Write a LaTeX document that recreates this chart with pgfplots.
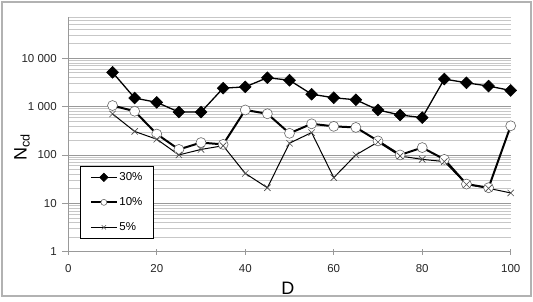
\documentclass[border=0pt]{standalone}
\usepackage{fontspec}
\setmainfont{Liberation Sans}
\usepackage{pgfplots}
\pgfplotsset{compat=1.18}
\begin{document}
\begin{tikzpicture}[x=1pt,y=1pt]
\path[use as bounding box] (-68.3,-50.3) rectangle (464.7,251.7);
\draw[black!30, line width=1.2pt] (-66.3,-44.3) rectangle (462.7,249.7);
\begin{axis}[
  at={(0,0)}, anchor=south west,
  scale only axis, width=442.4pt, height=234.4pt,
  ymode=log, log basis y=10,
  xmin=0, xmax=100, ymin=1, ymax=70000,
  axis x line=bottom, axis y line=left,
  axis line style={black!40, -},
  xtick={0,20,40,60,80,100},
  xticklabels={0,20,40,60,80,100},
  ytick={1,10,100,1000,10000},
  yticklabels={1,10,100,1 000,10 000},
  minor ytick={2,3,4,5,6,7,8,9,20,30,40,50,60,70,80,90,200,300,400,500,600,700,800,900,2000,3000,4000,5000,6000,7000,8000,9000,20000,30000,40000,50000,60000,70000},
  ymajorgrids=true, yminorgrids=true,
  major grid style={black!40, line width=0.6pt},
  minor grid style={black!22, line width=0.6pt},
  xtick style={black!40, line width=0.6pt},
  ytick style={black!40, line width=0.6pt},
  xtick align=center,
  ytick align=outside,
  major tick length=6pt,
  minor tick length=0pt,
  ticklabel style={font=\fontsize{11.5}{12}\selectfont, text=black!85},
  xticklabel style={yshift=-6.5pt},
  yticklabel style={xshift=-2pt},
  xlabel={D},
  xlabel style={font=\fontsize{18}{18}\selectfont, at={(axis description cs:0.4966,-0.155)}, anchor=center},
  ylabel={N\textsubscript{cd}},
  ylabel style={font=\fontsize{18}{18}\selectfont, at={(axis description cs:-0.1047,0.447)}, anchor=center},
  legend style={at={(rel axis cs:0.0264,0.0542)}, anchor=south west, draw=black, line width=0.8pt, fill=white,
    font=\fontsize{11.5}{12}\selectfont, inner xsep=9.5pt, inner ysep=5pt, row sep=12.5pt,
    nodes={inner sep=1.5pt}},
  legend cell align=left,
  legend image code/.code={\draw[mark repeat=2,mark phase=2,#1,mark size=3pt] plot coordinates {(0pt,0pt)(13pt,0pt)(26pt,0pt)};},
  clip=false,
]
\addplot[black, line width=1.3pt, mark=square*, mark size=4.2pt, mark options={rotate=45, fill=black, draw=black, line width=0.5pt}]
coordinates {(10,5100)(15,1500)(20,1220)(25,770)(30,770)(35,2400)(40,2550)(45,3950)(50,3500)(55,1800)(60,1520)(65,1380)(70,850)(75,670)(80,590)(85,3700)(90,3100)(95,2650)(100,2150)};
\addlegendentry{30\%}
\addplot[black, line width=2pt, mark=*, mark size=5pt, mark options={fill=white, draw=black!60, line width=0.6pt}]
coordinates {(10,1050)(15,800)(20,270)(25,130)(30,180)(35,165)(40,850)(45,710)(50,280)(55,440)(60,390)(65,370)(70,195)(75,100)(80,142)(85,81)(90,25)(95,21)(100,400)};
\addlegendentry{10\%}
\addplot[black, line width=1pt, mark=x, mark size=4.5pt, mark options={draw=black!70, line width=0.6pt}]
coordinates {(10,705)(15,306)(20,211)(25,100)(30,130)(35,155)(40,41.5)(45,21)(50,175)(55,290)(60,34)(65,100)(70,185)(75,95)(80,81)(85,73)(90,24.5)(95,20.4)(100,16.4)};
\addlegendentry{5\%}
\end{axis}
\end{tikzpicture}
\end{document}
